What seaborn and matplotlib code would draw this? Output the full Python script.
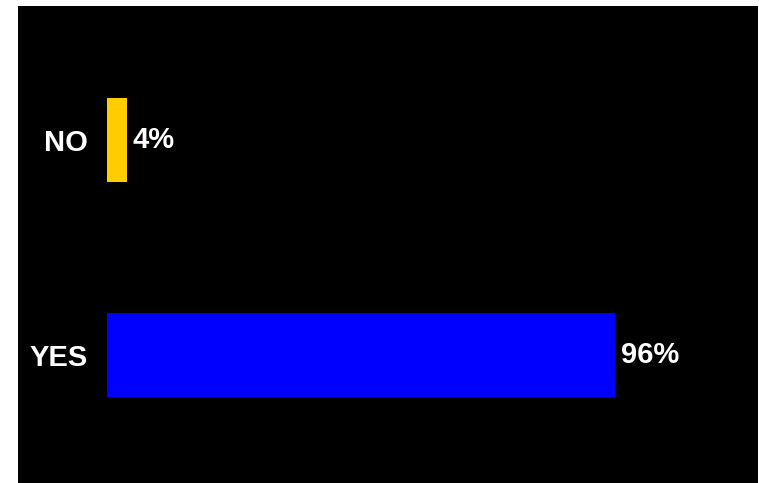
import matplotlib
matplotlib.use("Agg")
import matplotlib.pyplot as plt
from matplotlib.patches import Rectangle
import seaborn as sns
import pandas as pd

categories = ["NO", "YES"]
values = [3.7, 96.3]
value_labels = ["4%", "96%"]
colors = ["#FFCC00", "#0000FF"]

sns.set_theme(style="white")
plt.rcParams["font.family"] = ["Liberation Sans Narrow", "Liberation Sans", "DejaVu Sans"]

df = pd.DataFrame({"cat": categories, "val": values})

W, H = 759, 483
fig = plt.figure(figsize=(W / 100, H / 100), dpi=100, facecolor="white")
# black panel behind the chart
fig.patches.append(Rectangle((18 / W, 0), 740 / W, 477 / H, transform=fig.transFigure,
                             facecolor="black", edgecolor="none", zorder=-10))
ax = fig.add_axes([107 / W, 0, (758 - 107) / W, 477 / H])
ax.set_facecolor("none")
ax.set_zorder(1)

sns.barplot(data=df, x="val", y="cat", hue="cat", palette=colors, orient="h",
            width=0.39, ax=ax, legend=False, saturation=1, linewidth=0)

for cont, lab in zip(ax.containers, value_labels):
    ax.bar_label(cont, labels=[lab], padding=4, color="white",
                 fontsize=21, fontweight="bold")

ax.set_xlim(0, 123.4)
ax.set_ylim(1.597, -0.622)
ax.set_xlabel("")
ax.set_ylabel("")
ax.set_xticks([])
ax.tick_params(axis="y", length=0, pad=14, labelcolor="white", labelsize=21)
for t in ax.get_yticklabels():
    t.set_fontweight("bold")
for s in ax.spines.values():
    s.set_visible(False)

fig.savefig("out.png", dpi=100, facecolor="white")
